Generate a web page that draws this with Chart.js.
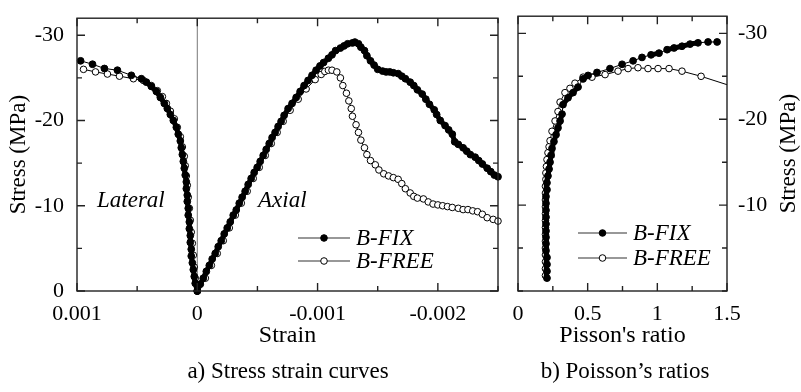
<!DOCTYPE html>
<html>
<head>
<meta charset="utf-8">
<script src="https://cdn.jsdelivr.net/npm/chart.js@4/dist/chart.umd.min.js"></script>
<style>
  body { margin: 0; background: #fff; }
  #wrap { position: relative; width: 801px; height: 392px; font-family: "Liberation Serif", serif; }
  canvas { position: absolute; left: 0; top: 0; }
  .cap { position: absolute; top: 358px; font-size: 23px; transform: translateX(-50%); white-space: nowrap; }
</style>
</head>
<body>
<div id="wrap">
  <canvas id="left" width="801" height="392"></canvas>
  <canvas id="right" width="801" height="392"></canvas>
  <div class="cap" style="left:288px">a) Stress strain curves</div>
  <div class="cap" style="left:625px">b) Poisson’s ratios</div>
</div>
<script>
const seriesNames = ['B-FIX', 'B-FREE'];

// [strain, stress (MPa)]
const fixLateral = [
  [0.00097,-27.0],[0.000871,-26.6],[0.000772,-26.1],[0.000664,-25.9],[0.000548,-25.3],[0.000465,-24.9],
  [0.000423,-24.5],[0.000382,-24.0],[0.00034,-23.4],[0.000307,-22.7],[0.000274,-22.0],[0.000249,-21.4],
  [0.000224,-20.7],[0.000199,-20.0],[0.000174,-19.2],[0.000158,-18.4],[0.000141,-17.6],[0.000133,-16.8],
  [0.000124,-16.0],[0.000116,-15.2],[0.000108,-14.4],[0.0001,-13.6],[0.000091,-12.8],[0.000091,-12.0],
  [0.000083,-11.25],[0.000083,-10.5],[0.000075,-9.7],[0.000075,-8.9],[0.000066,-8.1],[0.000066,-7.3],
  [0.000058,-6.5],[0.000058,-5.7],[0.00005,-4.9],[0.00005,-4.1],[0.000041,-3.3],[0.000033,-2.5],
  [0.000025,-1.7],[0.000017,-0.9],[0,0]
];
const fixAxial = [
  [0,0],[-0.000025,-0.8],[-0.00005,-1.5],[-0.000075,-2.3],[-0.0001,-3.0],[-0.000124,-3.75],[-0.000149,-4.4],
  [-0.000174,-5.2],[-0.000199,-5.9],[-0.000224,-6.7],[-0.000249,-7.4],[-0.000274,-8.1],[-0.000299,-8.9],
  [-0.000324,-9.5],[-0.000349,-10.3],[-0.000373,-11.0],[-0.000398,-11.7],[-0.000423,-12.5],[-0.000448,-13.2],
  [-0.000473,-13.9],[-0.000498,-14.5],[-0.000523,-15.2],[-0.000548,-15.9],[-0.000573,-16.6],[-0.000598,-17.3],
  [-0.000622,-18.0],[-0.000647,-18.6],[-0.000672,-19.3],[-0.000697,-19.9],[-0.000722,-20.6],[-0.000755,-21.4],
  [-0.000788,-22.0],[-0.000822,-22.7],[-0.000855,-23.4],[-0.000888,-24.1],[-0.000921,-24.7],[-0.000954,-25.3],
  [-0.000988,-25.9],[-0.00102,-26.4],[-0.00105,-26.8],[-0.00109,-27.3],[-0.00112,-27.7],[-0.00115,-28.2],
  [-0.00119,-28.5],[-0.00122,-28.75],[-0.00125,-29.0],[-0.00129,-29.1],[-0.00131,-29.2],[-0.00134,-29.0],
  [-0.00136,-28.6],[-0.00139,-28.2],[-0.00141,-27.6],[-0.00144,-27.0],[-0.00147,-26.5],[-0.0015,-26.0],
  [-0.00154,-25.8],[-0.00157,-25.7],[-0.0016,-25.7],[-0.00163,-25.6],[-0.00167,-25.5],[-0.0017,-25.2],
  [-0.00173,-24.9],[-0.00177,-24.5],[-0.0018,-24.1],[-0.00183,-23.6],[-0.00187,-23.1],[-0.0019,-22.5],
  [-0.00193,-21.9],[-0.00197,-21.25],[-0.00199,-20.7],[-0.00202,-20.0],[-0.00206,-19.4],[-0.00209,-18.9],
  [-0.00212,-18.4],[-0.00214,-17.5],[-0.00217,-17.2],[-0.00221,-16.8],[-0.00224,-16.4],[-0.00227,-16.0],
  [-0.00231,-15.7],[-0.00234,-15.3],[-0.00237,-14.9],[-0.00241,-14.4],[-0.00244,-14.0],[-0.00247,-13.6],
  [-0.0025,-13.4]
];
const freeLateral = [
  [0.000946,-26.0],[0.000846,-25.7],[0.000747,-25.45],[0.000647,-25.2],[0.000531,-24.9],[0.000448,-24.7],
  [0.000382,-24.1],[0.000332,-23.5],[0.00029,-22.8],[0.000257,-22.0],[0.000224,-21.1],[0.000191,-20.2],
  [0.000166,-19.2],[0.000141,-18.1],[0.000124,-16.9],[0.000108,-15.8],[0.0001,-14.7],[0.000091,-13.5],
  [0.000083,-12.4],[0.000075,-11.0],[0.000066,-9.7],[0.000058,-8.3],[0.00005,-6.9],[0.000041,-5.6],
  [0.000033,-4.2],[0.000025,-2.8],[0.000017,-1.5],[0,0]
];
const freeAxial = [
  [0,0],[-0.000067,-1.5],[-0.000117,-3.0],[-0.000166,-4.4],[-0.000216,-5.9],[-0.000266,-7.4],[-0.000316,-8.9],
  [-0.000366,-10.3],[-0.000415,-11.7],[-0.000465,-13.2],[-0.000515,-14.5],[-0.000565,-15.9],[-0.000615,-17.3],
  [-0.000664,-18.6],[-0.000714,-19.9],[-0.000772,-21.2],[-0.000839,-22.5],[-0.000905,-23.7],[-0.00098,-24.8],
  [-0.00103,-25.4],[-0.00106,-25.75],[-0.00109,-25.9],[-0.00112,-25.9],[-0.00116,-25.7],[-0.00119,-25.0],
  [-0.00121,-24.1],[-0.00124,-23.2],[-0.00126,-22.3],[-0.00128,-21.4],[-0.00129,-20.5],[-0.00132,-19.5],
  [-0.00134,-18.6],[-0.00136,-17.7],[-0.00139,-16.8],[-0.00141,-16.0],[-0.00144,-15.3],[-0.00148,-14.8],
  [-0.00151,-14.2],[-0.00155,-13.75],[-0.00159,-13.5],[-0.00163,-13.3],[-0.00167,-13.1],[-0.0017,-12.6],
  [-0.00173,-12.0],[-0.00177,-11.5],[-0.0018,-11.1],[-0.00183,-10.9],[-0.00188,-10.8],[-0.00192,-10.45],
  [-0.00196,-10.2],[-0.002,-10.1],[-0.00204,-10.0],[-0.00208,-9.9],[-0.00212,-9.8],[-0.00217,-9.7],
  [-0.00221,-9.55],[-0.00225,-9.55],[-0.00229,-9.4],[-0.00233,-9.3],[-0.00237,-9.0],[-0.00241,-8.6],
  [-0.00246,-8.4],[-0.0025,-8.2]
];

// [Poisson's ratio, stress (MPa)]
const fixPoisson = [
  [0.208,-1.5],[0.208,-2.3],[0.208,-3.1],[0.208,-3.9],[0.201,-4.7],[0.201,-5.5],[0.201,-6.25],[0.201,-7.0],
  [0.201,-7.8],[0.201,-8.6],[0.201,-9.4],[0.201,-10.2],[0.201,-11.0],[0.208,-11.8],[0.208,-12.6],[0.215,-13.4],
  [0.223,-14.2],[0.23,-15.0],[0.237,-15.8],[0.244,-16.6],[0.258,-17.4],[0.273,-18.2],[0.287,-19.0],[0.302,-19.8],
  [0.316,-20.6],[0.323,-21.7],[0.359,-22.5],[0.395,-23.1],[0.431,-23.75],[0.467,-24.7],[0.503,-25.1],
  [0.567,-25.45],[0.66,-25.9],[0.747,-26.4],[0.826,-26.8],[0.89,-27.2],[0.955,-27.5],[1.012,-27.7],
  [1.07,-28.1],[1.12,-28.3],[1.177,-28.5],[1.235,-28.75],[1.292,-28.9],[1.364,-29.0],[1.429,-29.0]
];
const freePoisson = [
  [0.197,-1.8],[0.197,-2.6],[0.197,-3.4],[0.197,-4.2],[0.197,-5.0],[0.197,-5.8],[0.197,-6.6],[0.197,-7.4],
  [0.197,-8.2],[0.197,-9.0],[0.197,-9.8],[0.197,-10.6],[0.197,-11.4],[0.197,-12.2],[0.2,-13.0],[0.2,-13.75],
  [0.204,-14.5],[0.208,-15.3],[0.215,-16.1],[0.223,-16.8],[0.23,-17.5],[0.244,-18.6],[0.266,-19.8],[0.287,-20.9],
  [0.302,-22.0],[0.337,-23.1],[0.373,-23.6],[0.409,-24.2],[0.467,-24.9],[0.531,-24.9],[0.625,-25.2],
  [0.718,-25.6],[0.79,-25.9],[0.861,-26.0],[0.933,-25.9],[1.005,-25.9],[1.084,-25.9],[1.177,-25.6],
  [1.314,-25.0],[1.6,-23.5]
];

const strainLabels = [0.001, 0, -0.001, -0.002];
const poissonLabels = [0, 0.5, 1, 1.5];
const stressLabels = [0, -10, -20, -30];

const FONT = '"Liberation Serif", "Times New Roman", serif';
Chart.defaults.font.family = FONT;
Chart.defaults.font.size = 22;
Chart.defaults.color = '#000';

const pts = arr => arr.map(p => ({x: p[0], y: p[1]}));
const near = (v, list) => list.some(l => Math.abs(v - l) < 1e-9);
// where markers crowd together the connecting line is drawn fat so the run reads as one band
const bandWidth = c => Math.hypot(c.p1.x - c.p0.x, c.p1.y - c.p0.y) < 8.6 ? 5 : 1;

const fixStyle = {
  borderColor: '#000', backgroundColor: '#000', pointBackgroundColor: '#000', pointBorderColor: '#000',
  pointRadius: 3.4, pointBorderWidth: 1, borderWidth: 1, showLine: true, segment: {borderWidth: bandWidth}, clip: false
};
const freeStyle = {
  borderColor: '#000', backgroundColor: '#fff', pointBackgroundColor: '#fff', pointBorderColor: '#000',
  pointRadius: 3.3, pointBorderWidth: 1, borderWidth: 1, showLine: true, clip: false
};

const deco = {
  id: 'deco',
  beforeDatasetsDraw(chart, args, o) {
    if (o.zeroAt === undefined) return;
    const {ctx, chartArea: a} = chart;
    const px = chart.scales.x.getPixelForValue(o.zeroAt);
    ctx.save();
    ctx.strokeStyle = '#777';
    ctx.lineWidth = 1;
    ctx.beginPath();
    ctx.moveTo(px, a.top);
    ctx.lineTo(px, a.bottom);
    ctx.stroke();
    ctx.restore();
  },
  afterDraw(chart, args, o) {
    const {ctx, chartArea: a} = chart;
    const x = chart.scales.x, y = chart.scales.y;
    ctx.save();
    ctx.strokeStyle = '#222';
    ctx.lineWidth = 1.4;
    ctx.strokeRect(a.left, a.top, a.right - a.left, a.bottom - a.top);
    ctx.beginPath();
    x.ticks.forEach(t => {
      const p = x.getPixelForValue(t.value);
      const len = t.label ? 8 : 5;
      ctx.moveTo(p, a.bottom); ctx.lineTo(p, a.bottom - len);
      ctx.moveTo(p, a.top); ctx.lineTo(p, a.top + len);
    });
    y.ticks.forEach(t => {
      const p = y.getPixelForValue(t.value);
      const len = t.label ? 8 : 5;
      ctx.moveTo(a.left, p); ctx.lineTo(a.left + len, p);
      ctx.moveTo(a.right, p); ctx.lineTo(a.right - len, p);
    });
    ctx.stroke();

    // legend
    (o.legend || []).forEach(item => {
      const ds = chart.data.datasets[item.dataset];
      ctx.strokeStyle = '#333';
      ctx.lineWidth = 1.2;
      ctx.beginPath();
      ctx.moveTo(item.x0, item.y); ctx.lineTo(item.x1, item.y);
      ctx.stroke();
      ctx.beginPath();
      ctx.arc((item.x0 + item.x1) / 2, item.y, 3.3, 0, Math.PI * 2);
      ctx.fillStyle = ds.pointBackgroundColor;
      ctx.fill();
      ctx.lineWidth = 1;
      ctx.strokeStyle = '#000';
      ctx.stroke();
      ctx.fillStyle = '#000';
      ctx.font = 'italic 23px ' + FONT;
      ctx.textAlign = 'left';
      ctx.textBaseline = 'middle';
      ctx.fillText(ds.label, item.x1 + 6, item.y + 1);
    });

    // free labels
    (o.notes || []).forEach(n => {
      ctx.fillStyle = '#000';
      ctx.font = 'italic 23px ' + FONT;
      ctx.textAlign = 'left';
      ctx.textBaseline = 'middle';
      ctx.fillText(n.text, n.x, n.y);
    });

    // vertical axis title, reading bottom to top
    if (o.yTitle) {
      ctx.translate(o.yTitle.x, (a.top + a.bottom) / 2);
      ctx.rotate(-Math.PI / 2);
      ctx.fillStyle = '#000';
      ctx.font = '23px ' + FONT;
      ctx.textAlign = 'center';
      ctx.textBaseline = 'middle';
      ctx.fillText(o.yTitle.text, 0, 0);
    }
    ctx.restore();
  }
};

const tickFont = {family: FONT, size: 22};
const stressAxis = (position, showZero) => ({
  type: 'linear', position, min: -32, max: 0, reverse: true,
  grid: {display: false}, border: {display: false},
  ticks: {
    stepSize: 5, includeBounds: false, autoSkip: false, color: '#000', font: tickFont,
    padding: position === 'left' ? 5 : 3,
    callback: v => near(v, stressLabels) && (showZero || v !== 0) ? String(v) : ''
  },
  afterFit: s => { s.width = position === 'left' ? 77 : 74; }
});

new Chart(document.getElementById('left'), {
  type: 'scatter',
  data: {
    datasets: [
      {label: seriesNames[0], data: pts(fixLateral), ...fixStyle},
      {label: seriesNames[0], data: pts(fixAxial), ...fixStyle},
      {label: seriesNames[1], data: pts(freeLateral), ...freeStyle},
      {label: seriesNames[1], data: pts(freeAxial), ...freeStyle}
    ]
  },
  options: {
    responsive: false,
    animation: false,
    layout: {padding: {left: 0, top: 9, right: 303, bottom: 42}},
    plugins: {
      legend: {display: false},
      tooltip: {enabled: false},
      deco: {
        zeroAt: 0,
        legend: [{dataset: 0, x0: 298, x1: 350, y: 238}, {dataset: 2, x0: 298, x1: 350, y: 261}],
        notes: [{text: 'Lateral', x: 97, y: 201}, {text: 'Axial', x: 258, y: 201}],
        yTitle: {text: 'Stress (MPa)', x: 19}
      }
    },
    scales: {
      x: {
        type: 'linear', position: 'bottom', min: -0.0025, max: 0.001, reverse: true,
        grid: {display: false}, border: {display: false},
        ticks: {
          stepSize: 0.0005, autoSkip: false, maxRotation: 0, color: '#000', font: tickFont, padding: 2,
          callback: v => near(v, strainLabels) ? (Math.abs(v) < 1e-9 ? '0' : v.toFixed(3)) : ''
        },
        title: {display: true, text: 'Strain', color: '#000', font: {family: FONT, size: 24}, padding: 0},
        afterFit: s => { s.height = 59; }
      },
      y: stressAxis('left', true)
    }
  },
  plugins: [deco]
});

new Chart(document.getElementById('right'), {
  type: 'scatter',
  data: {
    datasets: [
      {label: seriesNames[0], data: pts(fixPoisson), ...fixStyle},
      {label: seriesNames[1], data: pts(freePoisson), ...freeStyle, clip: 0}
    ]
  },
  options: {
    responsive: false,
    animation: false,
    layout: {padding: {left: 518, top: 9, right: 0, bottom: 42}},
    plugins: {
      legend: {display: false},
      tooltip: {enabled: false},
      deco: {
        legend: [{dataset: 0, x0: 578, x1: 627, y: 233}, {dataset: 1, x0: 578, x1: 627, y: 258}],
        yTitle: {text: 'Stress (MPa)', x: 789}
      }
    },
    scales: {
      x: {
        type: 'linear', position: 'bottom', min: 0, max: 1.5,
        grid: {display: false}, border: {display: false},
        ticks: {
          stepSize: 0.25, autoSkip: false, maxRotation: 0, color: '#000', font: tickFont, padding: 2,
          callback: v => near(v, poissonLabels) ? String(v) : ''
        },
        title: {display: true, text: "Pisson's ratio", color: '#000', font: {family: FONT, size: 24}, padding: 0},
        afterFit: s => { s.height = 59; }
      },
      y: stressAxis('right', false)
    }
  },
  plugins: [deco]
});
</script>
</body>
</html>
